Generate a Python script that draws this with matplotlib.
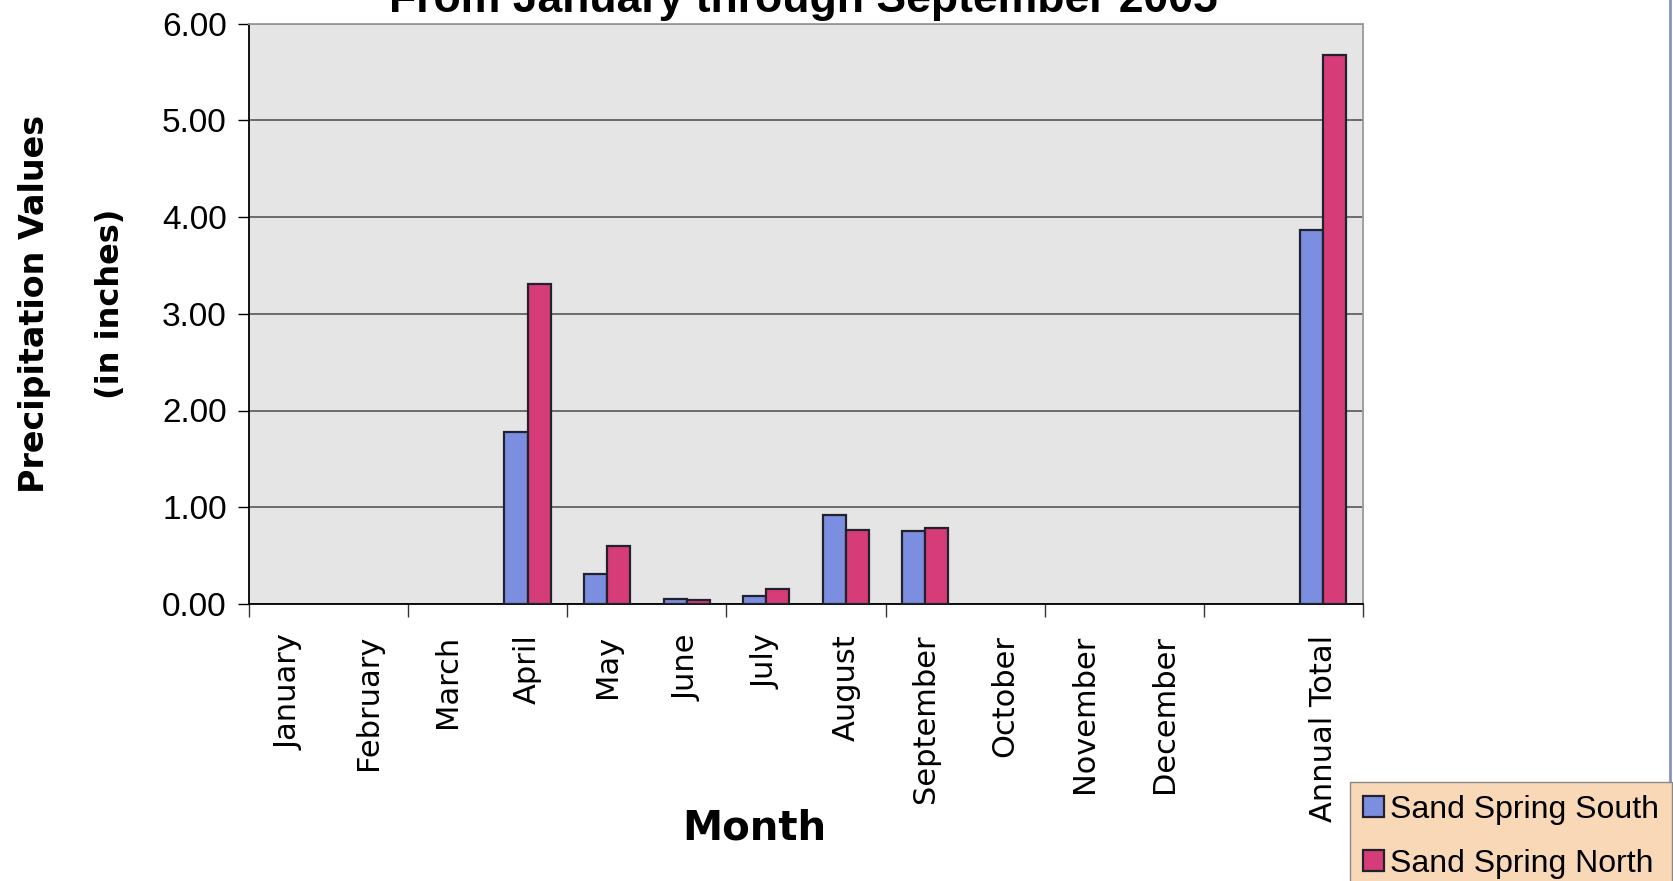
import numpy as np
import matplotlib
matplotlib.use('Agg')
import matplotlib.pyplot as plt
from matplotlib.lines import Line2D
from matplotlib.ticker import FormatStrFormatter

# precipitation per month, inches (blank months have no reading)
months = ['January', 'February', 'March', 'April', 'May', 'June', 'July',
          'August', 'September', 'October', 'November', 'December', '', 'Annual Total']
south = [None, None, None, 1.78, 0.31, 0.05, 0.08, 0.92, 0.75, None, None, None, None, 3.87]
north = [None, None, None, 3.31, 0.60, 0.04, 0.16, 0.77, 0.79, None, None, None, None, 5.67]
series_names = ['Sand Spring South', 'Sand Spring North']
title = 'From January through September 2005'

south_color = '#7b8ee0'
north_color = '#d63c78'
edge = '#22222e'


def to_arr(vals):
    return np.array([np.nan if v is None else v for v in vals], dtype=float)


W, H = 1673, 881
fig = plt.figure(figsize=(W / 100, H / 100), dpi=100)
ax = fig.add_axes([249 / W, 1 - 604 / H, (1363 - 249) / W, (604 - 23.5) / H])
ax.set_facecolor('#e5e5e5')

x = np.arange(len(months))
bw = 0.29
ax.bar(x - bw / 2, to_arr(south), width=bw, color=south_color, edgecolor=edge,
       linewidth=1.6, label=series_names[0], zorder=3)
ax.bar(x + bw / 2, to_arr(north), width=bw, color=north_color, edgecolor=edge,
       linewidth=1.6, label=series_names[1], zorder=3)

ax.set_xlim(-0.5, len(months) - 0.5)
ax.set_ylim(0, 6)
ax.set_yticks(np.arange(0, 7, 1))
ax.yaxis.set_major_formatter(FormatStrFormatter('%.2f'))
ax.grid(axis='y', color='#4a4a4a', linewidth=1.1, zorder=1)
ax.tick_params(axis='y', labelsize=24, length=8, width=1, pad=8)
for lab in ax.get_yticklabels():
    lab.set_fontfamily('Liberation Sans')

# category labels at centres, tick marks every 2 categories
ax.set_xticks(x)
ax.set_xticklabels(months, rotation=90, fontsize=22, fontfamily='DejaVu Sans',
                   va='top', ha='center')
ax.tick_params(axis='x', which='major', length=0, pad=22)
ax.set_xticks(np.arange(-0.5, len(months), 2), minor=True)
ax.tick_params(axis='x', which='minor', length=9, width=1, color='#333333')

ax.spines['left'].set_color('black')
ax.spines['bottom'].set_color('black')
ax.spines['top'].set_color('#9a9a9a')
ax.spines['right'].set_color('#9a9a9a')
for s in ax.spines.values():
    s.set_linewidth(1.3)

fig.text(803 / W, 1 - 12 / H, title, ha='center', va='baseline',
         fontsize=32, fontweight='bold', fontfamily='Liberation Sans')
fig.text(35 / W, 1 - 304 / H, 'Precipitation Values', rotation=90,
         ha='center', va='center', fontsize=24, fontweight='bold')
fig.text(110 / W, 1 - 304 / H, '(in inches)', rotation=90,
         ha='center', va='center', fontsize=23, fontweight='bold')
fig.text(754 / W, 1 - 828 / H, 'Month', ha='center', va='center',
         fontsize=29, fontweight='bold')

leg = fig.legend(loc='upper left', bbox_to_anchor=(1350 / W, 1 - 782 / H),
                 bbox_transform=fig.transFigure, borderaxespad=0,
                 prop={'family': 'Liberation Sans', 'size': 23},
                 handlelength=0.65, handleheight=0.65, handletextpad=0.2,
                 labelspacing=0.75, borderpad=0.4, fancybox=False,
                 framealpha=1)
leg.get_frame().set_facecolor('#f8d8b6')
leg.get_frame().set_edgecolor('#888888')

fig.add_artist(Line2D([0.9985, 0.9985], [0, 1], color='#8a93c0', lw=2))

fig.savefig('out.png', dpi=100)
